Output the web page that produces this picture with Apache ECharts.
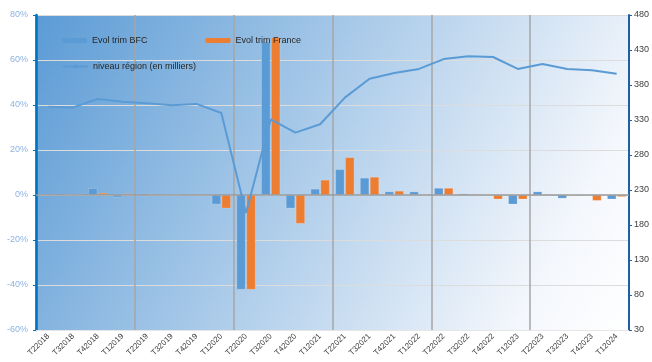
<!DOCTYPE html>
<html>
<head>
<meta charset="utf-8">
<script src="https://cdn.jsdelivr.net/npm/echarts@6/dist/echarts.min.js"></script>
<style>
  html, body { margin: 0; padding: 0; background: #fff; }
  #chart { width: 652px; height: 362px; }
</style>
</head>
<body>
<div id="chart"></div>
<script>
// trimestres
const quarters = [
  "T22018", "T32018", "T42018", "T12019", "T22019", "T32019", "T42019", "T12020",
  "T22020", "T32020", "T42020", "T12021", "T22021", "T32021", "T42021", "T12022",
  "T22022", "T32022", "T42022", "T12023", "T22023", "T32023", "T42023", "T12024"
];
// évolution trimestrielle, en %
const evolBFC = [0.1, 0.2, 3.0, -1.0, -0.5, 0.1, 0.4, -4.1, -42, 68, -5.9, 2.7,
  11.4, 7.6, 1.5, 1.5, 3.1, 0.6, 0.1, -4.1, 1.5, -1.5, -0.2, -1.9];
const evolFrance = [0.1, 0.2, 0.9, 0.6, 0.4, 0.2, 0.4, -5.9, -42, 70, -12.7, 6.7,
  16.7, 8.0, 1.8, 0.2, 3.1, 0.3, -1.9, -1.9, 0.3, 0.2, -2.5, -0.8];
// niveau région, en milliers
const niveauRegion = [349, 348, 360, 356, 354, 351, 353, 340, 197, 331, 312, 324,
  362, 389, 397, 403, 417, 421, 420, 403, 410, 403, 401, 396];

const chart = echarts.init(document.getElementById("chart"));
const font = "'Liberation Sans', Arial, sans-serif";

chart.setOption({
  animation: false,
  textStyle: { fontFamily: font },
  grid: {
    left: 36, right: 20, top: 15, bottom: 32,
    show: true,
    borderWidth: 0,
    backgroundColor: new echarts.graphic.LinearGradient(0, 0, 1, 1, [
      { offset: 0, color: "#5b9bd5" },
      { offset: 0.85, color: "#f4f7fc" },
      { offset: 1, color: "#ffffff" }
    ])
  },
  legend: [
    {
      data: ["Evol trim BFC", "Evol trim France"],
      left: 62, top: 36, padding: 0, itemGap: 58,
      itemWidth: 25, itemHeight: 5,
      itemStyle: { borderWidth: 0 },
      textStyle: { fontSize: 9, color: "#262626", fontFamily: font }
    },
    {
      data: ["niveau région (en milliers)"],
      left: 62, top: 62, padding: 0,
      itemWidth: 25, itemHeight: 5,
      textStyle: { fontSize: 9, color: "#262626", fontFamily: font }
    }
  ],
  xAxis: {
    type: "category",
    data: quarters,
    axisLine: { onZero: false, lineStyle: { color: "#e6e6e6", width: 1 } },
    axisTick: { show: false },
    axisLabel: {
      interval: 0, rotate: 45, fontSize: 8, color: "#404040", margin: 5
    },
    splitLine: {
      show: true,
      interval: (i) => i % 4 === 0,
      lineStyle: { color: "#a6a6a6", width: 1.5 }
    }
  },
  yAxis: [
    {
      type: "value",
      min: -60, max: 80, interval: 20,
      axisLine: { show: true, lineStyle: { color: "#0070c0", width: 2.5 } },
      axisTick: { show: true, length: 3, lineStyle: { color: "#0070c0" } },
      axisLabel: { formatter: "{value}%", fontSize: 9, color: "#8db3e2", margin: 8 },
      splitLine: { lineStyle: { color: "#dcdcdc", width: 1 } }
    },
    {
      type: "value",
      min: 30, max: 480, interval: 50,
      axisLine: { show: true, lineStyle: { color: "#1f5fa8", width: 2 } },
      axisTick: { show: true, length: 3, lineStyle: { color: "#1f5fa8" } },
      axisLabel: { fontSize: 9, color: "#404040", margin: 5 },
      splitLine: { show: false }
    }
  ],
  series: [
    {
      name: "Evol trim BFC",
      type: "bar",
      data: evolBFC,
      barWidth: 9,
      barGap: "10%",
      itemStyle: { color: "#5b9bd5", borderColor: "rgba(255,255,255,0.35)", borderWidth: 0.5 },
      markLine: {
        silent: true, symbol: "none", label: { show: false },
        lineStyle: { color: "#9a9a9a", width: 1.5, type: "solid" },
        data: [{ yAxis: 0 }]
      }
    },
    {
      name: "Evol trim France",
      type: "bar",
      data: evolFrance,
      barWidth: 9,
      itemStyle: { color: "#ed7d31", borderColor: "rgba(255,255,255,0.35)", borderWidth: 0.5 }
    },
    {
      name: "niveau région (en milliers)",
      type: "line",
      yAxisIndex: 1,
      data: niveauRegion,
      symbol: "none",
      lineStyle: { color: "#5b9bd5", width: 2 },
      itemStyle: { color: "#5b9bd5" },
      z: 5
    }
  ]
});
</script>
</body>
</html>
